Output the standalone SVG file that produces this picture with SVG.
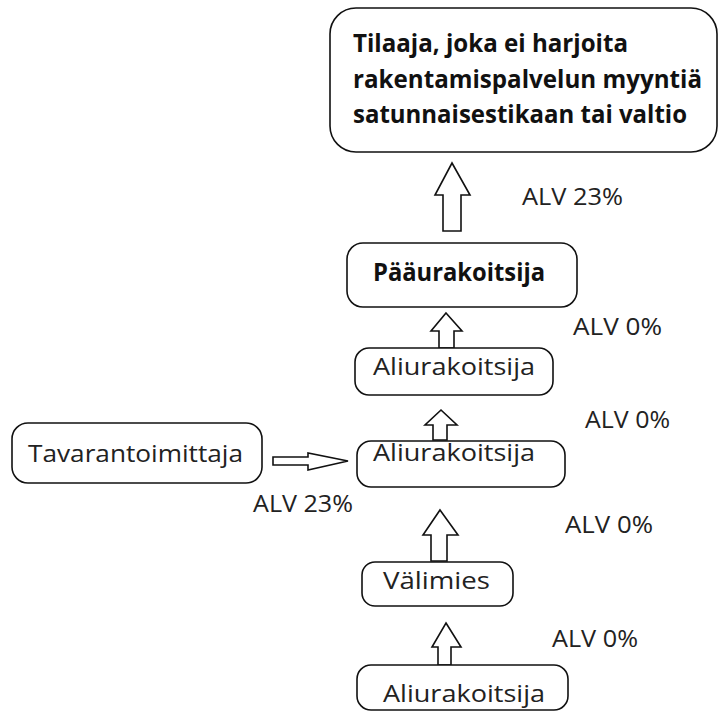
<svg xmlns="http://www.w3.org/2000/svg" width="720" height="715" viewBox="0 0 720 715">
<style>
.box{fill:#fff;stroke:#111;stroke-width:1.6}
.arr{fill:#fff;stroke:#111;stroke-width:1.6;stroke-linejoin:miter}
.t{font-family:"Open Sans","DejaVu Sans",sans-serif;font-size:24px;fill:#222}
.b{font-family:"Open Sans","DejaVu Sans",sans-serif;font-size:25px;font-weight:bold;fill:#111}
.l{font-family:"Open Sans","DejaVu Sans",sans-serif;font-size:24px;fill:#222}
</style>
<rect width="720" height="715" fill="#fff"/>
<g id="connectors">
<polygon class="arr" points="452,163 470,195 461,195 461,231 443,231 443,195 435,195"/>
<polygon class="arr" points="446,313 462,331 454,331 454,348 439,348 439,331 431,331"/>
<polygon class="arr" points="441,410 457,425 447,425 447,440 433,440 433,425 425,425"/>
<polygon class="arr" points="440,510 458,535 447,535 447,561 431,561 431,535 423,535"/>
<polygon class="arr" points="446,623 461,647 451,647 451,665 438,665 438,647 432,647"/>
<polygon class="arr" points="348,461 308,453 308,457 273,457 273,465 308,465 308,470"/>
</g>
<g id="node-tilaaja">
<rect class="box" x="330" y="8" width="387" height="144" rx="26" ry="26"/>
<text class="b" x="353" y="52" textLength="275" lengthAdjust="spacingAndGlyphs">Tilaaja, joka ei harjoita</text>
<text class="b" x="353" y="88" textLength="349" lengthAdjust="spacingAndGlyphs">rakentamispalvelun myyntiä</text>
<text class="b" x="353" y="123" textLength="334" lengthAdjust="spacingAndGlyphs">satunnaisestikaan tai valtio</text>
</g>
<g id="node-paaurakoitsija">
<rect class="box" x="347" y="243" width="230" height="64" rx="16" ry="16"/>
<text class="b" x="373" y="281" textLength="172" lengthAdjust="spacingAndGlyphs">Pääurakoitsija</text>
</g>
<g id="node-aliurakoitsija1">
<rect class="box" x="355" y="348" width="198" height="47" rx="14" ry="14"/>
<text class="t" x="373" y="375" textLength="162" lengthAdjust="spacingAndGlyphs">Aliurakoitsija</text>
</g>
<g id="node-tavarantoimittaja">
<rect class="box" x="12" y="423" width="250" height="60" rx="16" ry="16"/>
<text class="t" x="28" y="462" textLength="215" lengthAdjust="spacingAndGlyphs">Tavarantoimittaja</text>
</g>
<g id="node-aliurakoitsija2">
<rect class="box" x="357" y="441" width="208" height="46" rx="14" ry="14"/>
<text class="t" x="373" y="461" textLength="162" lengthAdjust="spacingAndGlyphs">Aliurakoitsija</text>
</g>
<g id="node-valimies">
<rect class="box" x="362" y="562" width="151" height="44" rx="13" ry="13"/>
<text class="t" x="383" y="589" textLength="107" lengthAdjust="spacingAndGlyphs">Välimies</text>
</g>
<g id="node-aliurakoitsija3">
<rect class="box" x="357" y="665" width="211" height="45" rx="14" ry="14"/>
<text class="t" x="383" y="702" textLength="162" lengthAdjust="spacingAndGlyphs">Aliurakoitsija</text>
</g>
<g id="labels">
<text class="l" x="522" y="205" textLength="101" lengthAdjust="spacingAndGlyphs">ALV 23%</text>
<text class="l" x="573" y="335" textLength="89" lengthAdjust="spacingAndGlyphs">ALV 0%</text>
<text class="l" x="585" y="428" textLength="85" lengthAdjust="spacingAndGlyphs">ALV 0%</text>
<text class="l" x="253" y="512" textLength="100" lengthAdjust="spacingAndGlyphs">ALV 23%</text>
<text class="l" x="565" y="533" textLength="88" lengthAdjust="spacingAndGlyphs">ALV 0%</text>
<text class="l" x="552" y="647" textLength="86" lengthAdjust="spacingAndGlyphs">ALV 0%</text>
</g>
</svg>
